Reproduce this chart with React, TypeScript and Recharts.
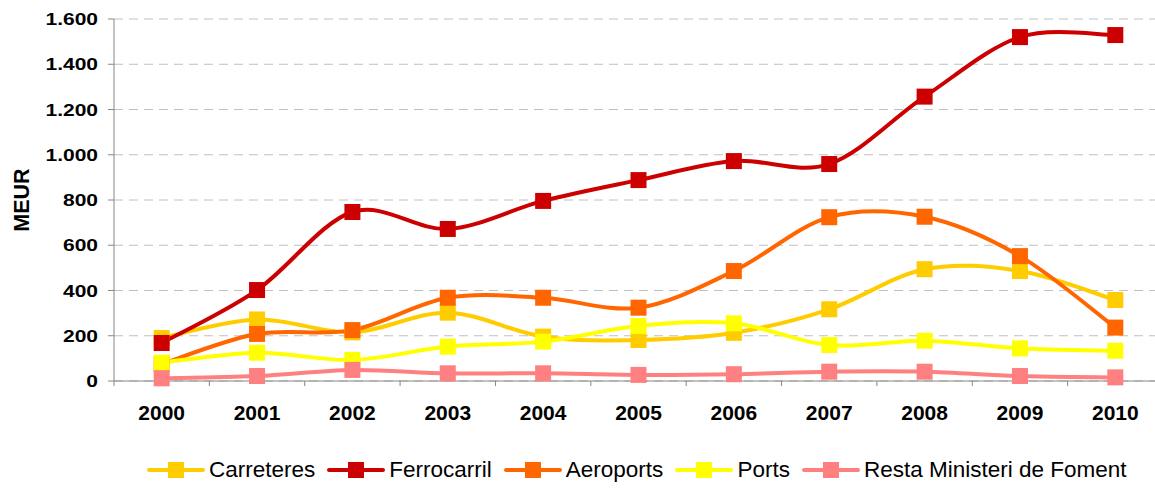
import { LineChart, Line, XAxis, YAxis, CartesianGrid, Legend, Label } from "recharts"

const years = ["2000", "2001", "2002", "2003", "2004", "2005", "2006", "2007", "2008", "2009", "2010"]
const carreteres = [190, 272, 215, 302, 196, 181, 213, 317, 494, 486, 358]
const ferrocarril = [168, 402, 747, 672, 796, 888, 972, 959, 1257, 1520, 1529]
const aeroports = [75, 208, 225, 368, 368, 324, 486, 724, 726, 552, 236]
const ports = [81, 125, 93, 152, 174, 243, 255, 159, 178, 144, 134]
const resta = [12, 22, 49, 34, 34, 27, 30, 41, 41, 22, 16]
const yTicks = [0, 200, 400, 600, 800, 1000, 1200, 1400, 1600]

const series = [
  { key: "carreteres", name: "Carreteres", color: "#FFCC00", values: carreteres },
  { key: "ferrocarril", name: "Ferrocarril", color: "#CC0000", values: ferrocarril },
  { key: "aeroports", name: "Aeroports", color: "#FF6600", values: aeroports },
  { key: "ports", name: "Ports", color: "#FFFF00", values: ports },
  { key: "resta", name: "Resta Ministeri de Foment", color: "#FF8080", values: resta },
]

const data = years.map((year, i) => {
  const row: Record<string, string | number> = { year }
  series.forEach((s) => (row[s.key] = s.values[i]))
  return row
})

const FONT = '"Liberation Sans", Arial, sans-serif'
const CHART_W = 1163
const CHART_H = 489
const Y_W = 114
const BAND = (CHART_W - Y_W) / years.length
const AXIS = "#868686"

// Excel-style smoothed line (Catmull-Rom as cubic beziers)
const excelSmooth = (context: any) => {
  let pts: number[][] = []
  return {
    areaStart() {},
    areaEnd() {},
    lineStart() {
      pts = []
    },
    point(x: number, y: number) {
      pts.push([+x, +y])
    },
    lineEnd() {
      const n = pts.length
      if (!n) return
      context.moveTo(pts[0][0], pts[0][1])
      for (let i = 0; i < n - 1; i++) {
        const p0 = pts[Math.max(i - 1, 0)]
        const p1 = pts[i]
        const p2 = pts[i + 1]
        const p3 = pts[Math.min(i + 2, n - 1)]
        context.bezierCurveTo(
          p1[0] + (p2[0] - p0[0]) / 6,
          p1[1] + (p2[1] - p0[1]) / 6,
          p2[0] - (p3[0] - p1[0]) / 6,
          p2[1] - (p3[1] - p1[1]) / 6,
          p2[0],
          p2[1]
        )
      }
    },
  }
}

const fmt = (v: number) => String(v).replace(/\B(?=(\d{3})+(?!\d))/g, ".")

function YTick(props: any) {
  const { x, y, payload } = props
  return (
    <g transform={`translate(${x},${y}) scale(1,0.8)`}>
      <text x={0} y={0} dy="0.36em" textAnchor="end" fontSize={21} fontWeight="bold" fontFamily={FONT} fill="#000">
        {fmt(payload.value)}
      </text>
    </g>
  )
}

function XTick(props: any) {
  const { x, y, payload, index } = props
  const axisY = y - 8
  const half = BAND / 2
  return (
    <g>
      <line x1={x - half} x2={x - half} y1={axisY} y2={axisY + 5} stroke={AXIS} />
      {index === years.length - 1 && <line x1={x + half} x2={x + half} y1={axisY} y2={axisY + 5} stroke={AXIS} />}
      <text x={x} y={y + 31} textAnchor="middle" fontSize={21} fontWeight="bold" fontFamily={FONT} fill="#000">
        {payload.value}
      </text>
    </g>
  )
}

function SquareDot(color: string) {
  return (p: any) => (
    <rect key={`${p.dataKey}-${p.index}`} x={p.cx - 8} y={p.cy - 8} width={16} height={16} fill={color} />
  )
}

function LegendContent() {
  return (
    <div style={{ display: "flex", alignItems: "center", height: 30, fontFamily: FONT, fontSize: 22.5, color: "#000" }}>
      {series.map((s) => (
        <div key={s.key} style={{ display: "flex", alignItems: "center", marginRight: 12 }}>
          <svg width={58} height={16} style={{ display: "block" }}>
            <line x1={2} x2={56} y1={8} y2={8} stroke={s.color} strokeWidth={4} strokeLinecap="round" />
            <rect x={21} y={0} width={16} height={16} fill={s.color} />
          </svg>
          <span style={{ marginLeft: 4, whiteSpace: "nowrap", lineHeight: "30px" }}>{s.name}</span>
        </div>
      ))}
    </div>
  )
}

export default function App() {
  return (
    <div style={{ position: "fixed", left: 0, top: 0, width: 1155, height: CHART_H, overflow: "hidden", background: "#fff" }}>
      <LineChart width={CHART_W} height={CHART_H} data={data} margin={{ top: 19, right: 0, bottom: 38, left: 0 }}>
        <CartesianGrid vertical={false} stroke="#c0c0c0" strokeDasharray="9 6" />
        <XAxis
          dataKey="year"
          scale="band"
          height={40}
          interval={0}
          stroke={AXIS}
          tickLine={false}
          tickSize={6}
          tickMargin={2}
          tick={<XTick />}
        />
        <YAxis
          width={Y_W}
          domain={[0, 1600]}
          ticks={yTicks}
          interval={0}
          stroke={AXIS}
          tickSize={6}
          tickMargin={10}
          tick={<YTick />}
        >
          <Label
            content={(p: any) => {
              const vb = p.viewBox || {}
              const cy = (vb.y ?? 19) + (vb.height ?? 362) / 2
              return (
                <text
                  x={0}
                  y={0}
                  transform={`translate(21,${cy}) rotate(-90)`}
                  dy="0.36em"
                  textAnchor="middle"
                  fontSize={21.5}
                  fontWeight="bold"
                  fontFamily={FONT}
                  fill="#000"
                >
                  MEUR
                </text>
              )
            }}
          />
        </YAxis>
        <Legend verticalAlign="bottom" content={<LegendContent />} wrapperStyle={{ top: 455, left: 147, height: 30, width: "auto" }} />
        {series.map((s) => (
          <Line
            key={s.key}
            dataKey={s.key}
            name={s.name}
            type={excelSmooth as any}
            stroke={s.color}
            strokeWidth={4}
            dot={SquareDot(s.color)}
            activeDot={false}
            isAnimationActive={false}
          />
        ))}
      </LineChart>
    </div>
  )
}
